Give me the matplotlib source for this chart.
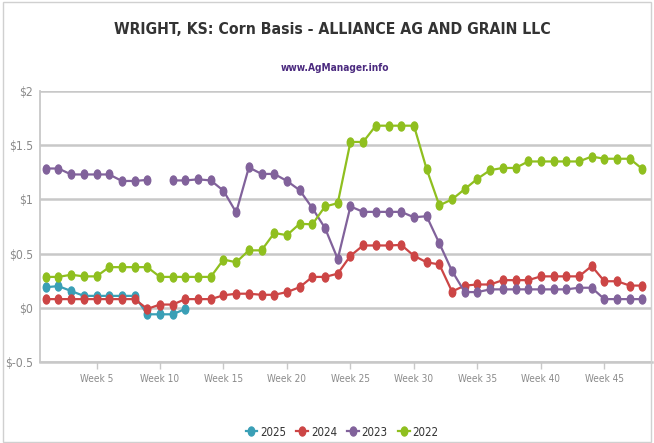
import numpy as np
import matplotlib.pyplot as plt
from matplotlib import font_manager as fm
from matplotlib.patches import Rectangle
from matplotlib.path import Path
from matplotlib.transforms import Affine2D

# weekly corn basis ($/bu)
weeks = np.arange(1, 49)

basis_2025 = [0.19, 0.20, 0.155, 0.11, 0.11, 0.11, 0.11, 0.11, -0.06, -0.06, -0.06, -0.01]

basis_2024 = [0.08, 0.08, 0.08, 0.08, 0.08, 0.08, 0.08, 0.08, -0.01, 0.03,
              0.03, 0.08, 0.08, 0.08, 0.115, 0.13, 0.13, 0.12, 0.12, 0.145,
              0.19, 0.285, 0.285, 0.315, 0.48, 0.575, 0.575, 0.575, 0.58, 0.48,
              0.42, 0.40, 0.15, 0.205, 0.215, 0.215, 0.255, 0.255, 0.255, 0.29,
              0.29, 0.29, 0.29, 0.385, 0.245, 0.245, 0.205, 0.205]

basis_2023 = [1.285, 1.285, 1.23, 1.23, 1.23, 1.23, 1.17, 1.17, 1.18, np.nan,
              1.175, 1.175, 1.185, 1.175, 1.08, 0.88, 1.295, 1.235, 1.235, 1.17,
              1.085, 0.92, 0.735, 0.45, 0.935, 0.885, 0.885, 0.885, 0.885, 0.835,
              0.845, 0.595, 0.34, 0.145, 0.145, 0.17, 0.17, 0.17, 0.17, 0.17,
              0.17, 0.17, 0.185, 0.185, 0.08, 0.08, 0.08, 0.08]

basis_2022 = [0.285, 0.285, 0.305, 0.29, 0.29, 0.375, 0.375, 0.375, 0.375, 0.285,
              0.285, 0.285, 0.285, 0.285, 0.445, 0.42, 0.53, 0.53, 0.69, 0.67,
              0.775, 0.77, 0.935, 0.965, 1.53, 1.53, 1.68, 1.68, 1.68, 1.68,
              1.28, 0.945, 1.0, 1.095, 1.19, 1.27, 1.29, 1.29, 1.35, 1.35,
              1.35, 1.35, 1.35, 1.395, 1.375, 1.375, 1.375, 1.28]

series_names = ['2025', '2024', '2023', '2022']
series_colors = ['#3a9fb6', '#cc4545', '#81629b', '#8fbf1f']

yticks = [-0.5, 0, 0.5, 1, 1.5, 2]
ytick_labels = ['$-0.5', '$0', '$0.5', '$1', '$1.5', '$2']
xticks = [5, 10, 15, 20, 25, 30, 35, 40, 45]
xtick_labels = ['Week %d' % w for w in xticks]

# the original uses a narrow font; take a condensed face if one is installed
cond = fm.FontProperties(family='DejaVu Sans', stretch='condensed')
narrow = 'Condensed' in fm.findfont(cond)
plt.rcParams['font.family'] = ['DejaVu Sans']
if narrow:
    plt.rcParams['font.stretch'] = 'condensed'
k = 1.0 if narrow else 0.88

# markers in the original are a bit taller than wide
dot = Path.unit_circle().transformed(Affine2D().scale(0.72, 1.0))

fig = plt.figure(figsize=(6.54, 4.43), dpi=100)
ax = fig.add_axes([40 / 654, 1 - 362 / 443, 612 / 654, 271 / 443])

all_series = [basis_2025, basis_2024, basis_2023, basis_2022]
for name, vals, col in zip(series_names, all_series, series_colors):
    ax.plot(weeks[:len(vals)], vals, color=col, lw=1.6, marker=dot, ms=6.5,
            label=name, zorder=3, clip_on=False)

ax.set_xlim(0.55, 48.75)
ax.set_ylim(-0.5, 2)
ax.set_yticks(yticks)
ax.set_yticklabels(ytick_labels)
ax.set_xticks(xticks)
ax.set_xticklabels(xtick_labels)
ax.grid(axis='y', color='#c8c8c8', lw=1.8)
ax.set_axisbelow(True)
for s in ['top', 'right']:
    ax.spines[s].set_visible(False)
ax.spines['bottom'].set_color('#c8c8c8')
ax.spines['bottom'].set_linewidth(1.8)
ax.spines['left'].set_color('#c8c8c8')
ax.spines['left'].set_linewidth(1.3)
ax.tick_params(axis='y', length=0, pad=5, labelcolor='#8a8a8a', labelsize=8.7 * k)
ax.tick_params(axis='x', length=5, width=1, color='#c8c8c8', pad=4,
               labelcolor='#8a8a8a', labelsize=7.2 * k)

fig.text(332 / 654, 1 - 30 / 443, 'WRIGHT, KS: Corn Basis - ALLIANCE AG AND GRAIN LLC',
         ha='center', va='center', fontsize=11.3 * k, color='#333333',
         fontweight='bold')
fig.text(335 / 654, 1 - 68 / 443, 'www.AgManager.info', ha='center', va='center',
         fontsize=7.3 * k, color='#4b2a7f', fontweight='bold')

leg = fig.legend(loc='center', bbox_to_anchor=(342 / 654, 1 - 432 / 443), ncol=4,
                 frameon=False, fontsize=8.3 * k, handlelength=1.0, columnspacing=0.9,
                 handletextpad=0.25, labelcolor='#333333')

# thin frame around the whole image
fig.add_artist(Rectangle((0.004, 0.003), 0.992, 0.993, transform=fig.transFigure,
                         fill=False, ec='#d0d0d0', lw=1))

fig.savefig('out.png', dpi=100)
